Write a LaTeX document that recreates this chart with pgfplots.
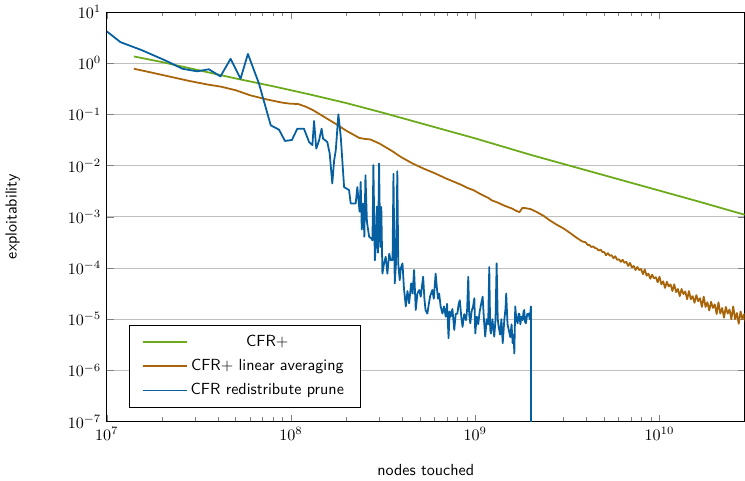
\documentclass[border=0pt]{standalone}
\usepackage{pgfplots}
\usepackage{pgfplotstable}
\usepackage{sansmath}
\pgfplotsset{compat=1.18}
\renewcommand{\familydefault}{\sfdefault}
\definecolor{cgreen}{RGB}{107,170,26}
\definecolor{corange}{RGB}{168,100,8}
\definecolor{cblue}{RGB}{6,95,160}

% data given as log10(x) log10(y)
\pgfplotstableread{
lx ly
7.147 0.13
7.3 0.02
7.5 -0.14
7.7 -0.30
7.9 -0.45
8.0 -0.53
8.1 -0.61
8.3 -0.78
8.5 -0.97
8.7 -1.17
9.0 -1.47
9.3 -1.79
9.5 -1.99
9.8 -2.29
10.0 -2.49
10.2 -2.69
10.462 -2.96
}\cfrplus

\pgfplotstableread{
lx ly
7.147 -0.11
7.25 -0.19
7.35 -0.27
7.45 -0.35
7.55 -0.42
7.62 -0.46
7.70 -0.53
7.78 -0.63
7.87 -0.71
7.95 -0.77
7.99 -0.79
8.04 -0.80
8.08 -0.85
8.12 -0.92
8.18 -1.05
8.24 -1.18
8.30 -1.32
8.37 -1.46
8.40 -1.48
8.43 -1.49
8.48 -1.57
8.55 -1.72
8.60 -1.84
8.66 -1.96
8.72 -2.06
8.78 -2.15
8.84 -2.25
8.88 -2.31
8.92 -2.37
8.96 -2.44
8.99 -2.48
9.03 -2.56
9.07 -2.63
9.09 -2.68
9.12 -2.72
9.15 -2.77
9.17 -2.80
9.20 -2.84
9.22 -2.88
9.24 -2.91
9.255 -2.83
9.27 -2.83
9.30 -2.85
9.33 -2.90
9.37 -2.98
9.40 -3.06
9.44 -3.15
9.48 -3.23
9.52 -3.33
9.55 -3.41
9.58 -3.48
9.60 -3.50
9.61 -3.55
9.62 -3.55
9.63 -3.59
9.64 -3.58
9.65 -3.61
9.66 -3.62
9.67 -3.66
9.68 -3.64
9.69 -3.69
9.70 -3.69
9.71 -3.75
9.72 -3.71
9.73 -3.76
9.74 -3.75
9.75 -3.81
9.76 -3.77
9.77 -3.84
9.78 -3.83
9.79 -3.88
9.80 -3.84
9.81 -3.90
9.82 -3.88
9.83 -3.96
9.84 -3.90
9.85 -3.99
9.86 -3.96
9.87 -4.04
9.88 -3.98
9.89 -4.04
9.90 -4.02
9.91 -4.12
9.92 -4.03
9.93 -4.15
9.94 -4.11
9.95 -4.21
9.96 -4.13
9.97 -4.20
9.98 -4.18
9.99 -4.28
10.00 -4.17
10.01 -4.32
10.02 -4.26
10.03 -4.39
10.04 -4.27
10.05 -4.36
10.06 -4.32
10.07 -4.45
10.08 -4.32
10.09 -4.47
10.10 -4.41
10.11 -4.55
10.12 -4.41
10.13 -4.51
10.14 -4.46
10.15 -4.61
10.16 -4.45
10.17 -4.61
10.18 -4.55
10.19 -4.68
10.20 -4.53
10.21 -4.65
10.22 -4.59
10.23 -4.76
10.24 -4.56
10.25 -4.76
10.26 -4.67
10.27 -4.83
10.28 -4.66
10.29 -4.78
10.30 -4.71
10.31 -4.90
10.32 -4.67
10.33 -4.89
10.34 -4.78
10.35 -4.97
10.36 -4.76
10.37 -4.89
10.38 -4.81
10.39 -5.00
10.40 -4.75
10.41 -5.00
10.42 -4.88
10.43 -5.09
10.44 -4.85
10.45 -5.00
10.46 -4.90
10.47 -5.13
}\cfrlin

\pgfplotstableread{
lx ly
7.00 0.62
7.074 0.41
7.192 0.25
7.319 0.05
7.41 -0.11
7.49 -0.16
7.554 -0.12
7.617 -0.26
7.672 0.085
7.726 -0.305
7.766 0.18
7.826 -0.40
7.89 -1.215
7.935 -1.30
7.967 -1.52
8.005 -1.50
8.034 -1.28
8.07 -1.28
8.098 -1.54
8.116 -1.60
8.125 -1.13
8.137 -1.67
8.152 -1.51
8.166 -1.28
8.174 -1.475
8.197 -1.54
8.21 -1.77
8.224 -2.35
8.234 -1.90
8.243 -1.70
8.257 -1.00
8.27 -1.44
8.288 -2.42
8.315 -2.48
8.324 -2.74
8.351 -2.74
8.36 -2.42
8.372 -2.90
8.378 -2.32
8.384 -3.25
8.392 -2.74
8.398 -3.39
8.404 -2.19
8.412 -3.10
8.424 -3.39
8.435 -3.42
8.442 -3.46
8.447 -1.99
8.455 -3.85
8.460 -3.59
8.466 -2.80
8.472 -3.70
8.478 -1.96
8.484 -3.59
8.490 -2.81
8.496 -4.11
8.505 -3.91
8.514 -3.78
8.523 -4.11
8.533 -3.72
8.541 -3.85
8.551 -3.85
8.556 -2.16
8.563 -4.30
8.570 -3.90
8.577 -2.11
8.582 -3.91
8.590 -4.24
8.596 -4.00
8.605 -3.91
8.613 -4.40
8.623 -4.75
8.632 -4.45
8.641 -4.69
8.652 -4.30
8.660 -4.50
8.668 -4.04
8.677 -4.82
8.686 -4.50
8.696 -4.43
8.704 -4.56
8.711 -4.35
8.717 -4.17
8.724 -4.60
8.730 -4.82
8.740 -4.89
8.748 -4.70
8.755 -4.55
8.767 -4.43
8.775 -4.60
8.785 -4.11
8.792 -4.40
8.798 -4.60
8.804 -4.50
8.812 -4.75
8.822 -4.89
8.830 -4.75
8.840 -4.95
8.847 -4.70
8.855 -5.37
8.861 -4.85
8.867 -4.95
8.876 -4.80
8.886 -5.21
8.894 -4.90
8.903 -4.89
8.910 -4.70
8.916 -4.63
8.924 -4.95
8.931 -5.15
8.940 -4.90
8.950 -5.02
8.956 -4.80
8.962 -4.17
8.967 -4.90
8.973 -5.08
8.980 -4.85
8.988 -4.75
8.995 -4.59
9.000 -5.28
9.008 -4.95
9.016 -5.10
9.024 -4.85
9.032 -4.70
9.040 -4.56
9.047 -5.00
9.054 -5.34
9.062 -5.00
9.070 -5.10
9.076 -3.98
9.081 -5.20
9.085 -5.28
9.093 -5.00
9.103 -5.34
9.110 -5.00
9.116 -3.91
9.122 -5.00
9.127 -5.15
9.135 -5.30
9.142 -5.00
9.149 -5.47
9.158 -5.00
9.164 -4.80
9.168 -4.50
9.175 -5.10
9.182 -5.21
9.190 -5.35
9.197 -5.10
9.203 -5.47
9.208 -5.30
9.212 -5.67
9.217 -4.75
9.223 -5.00
9.230 -5.08
9.235 -4.90
9.239 -4.89
9.245 -5.10
9.250 -4.95
9.257 -5.02
9.262 -4.85
9.266 -4.82
9.270 -5.05
9.275 -5.08
9.282 -4.90
9.290 -4.89
9.296 -5.00
9.302 -4.75
9.3025 -8.00
}\cfrprune

\begin{document}
\sansmath
\begin{tikzpicture}
\begin{axis}[
  scale only axis,
  width=397pt, height=255pt,
  xmode=log, ymode=log,
  xmin=1e7, xmax=2.9e10,
  ymin=1e-7, ymax=10,
  ytick={1e-7,1e-6,1e-5,1e-4,1e-3,1e-2,1e-1,1,10},
  yminorticks=false,
  ymajorgrids,
  major grid style={black!25},
  xlabel={nodes touched},
  ylabel={exploitability},
  xlabel style={yshift=-8pt},
  ylabel style={yshift=23pt},
  title style={yshift=0pt},
  legend cell align=center,
  legend style={at={(0.035,0.035)}, anchor=south west, draw=black, fill=white,
    row sep=2.5pt, inner xsep=8pt, inner ysep=4pt},
  legend image code/.code={\draw[#1] (0cm,0cm) -- (0.95cm,0cm);},
  every axis plot/.append style={line width=1.1pt, line join=round},
]
\addplot[cgreen] table[x expr=10^\thisrow{lx}, y expr=10^\thisrow{ly}] {\cfrplus};
\addlegendentry{CFR+}
\addplot[corange] table[x expr=10^\thisrow{lx}, y expr=10^\thisrow{ly}] {\cfrlin};
\addlegendentry{CFR+ linear averaging}
\addplot[cblue] table[x expr=10^\thisrow{lx}, y expr=10^\thisrow{ly}] {\cfrprune};
\addlegendentry{CFR redistribute prune}
\end{axis}
\end{tikzpicture}
\end{document}
